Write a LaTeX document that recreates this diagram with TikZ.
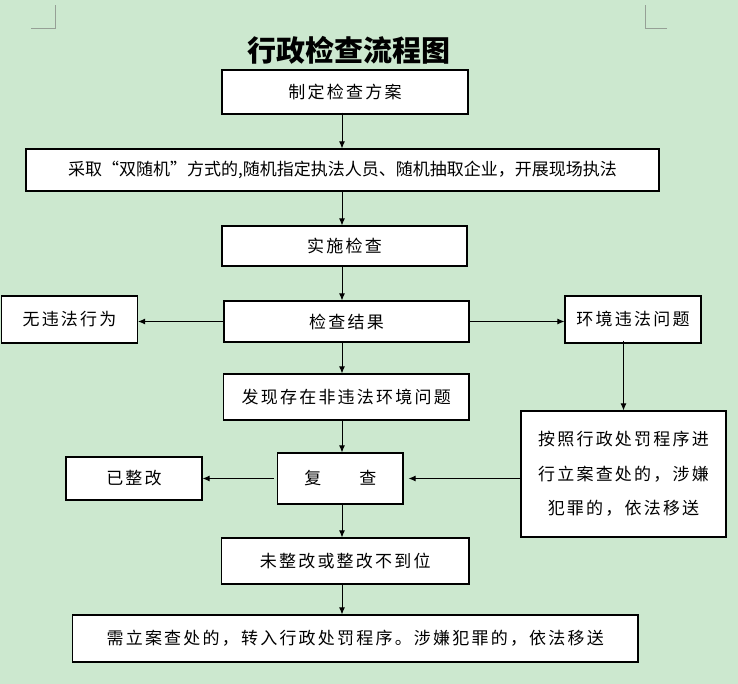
\documentclass[tikz,border=0pt]{standalone}
\usepackage{fontspec}
\usetikzlibrary{arrows.meta}
\setmainfont{Noto Sans CJK SC}
\newfontfamily\cjk{Noto Sans CJK SC}
\newfontfamily\cjks[LetterSpace=13]{Noto Sans CJK SC}
\definecolor{bgc}{RGB}{204,232,207}
\definecolor{markc}{RGB}{150,160,150}
\tikzset{
  box/.style={draw=black, line width=1.2pt, fill=white, inner sep=0pt,
    font=\cjks\fontsize{17}{20}\selectfont},
  wide/.style={box, font=\cjk\fontsize{17}{20}\selectfont},
  arr/.style={draw=black, line width=0.9pt, -{Latex[length=7pt,width=6pt]}},
  cornermark/.style={draw=markc, line width=0.8pt}
}
\begin{document}
\begin{tikzpicture}[x=1pt,y=-1pt]
\fill[bgc] (0,0) rectangle (738,684);
\useasboundingbox (0,0) rectangle (738,684);
% corner marks
\draw[cornermark] (31,28) -- (55,28) -- (55,5);
\draw[cornermark] (667,28) -- (645,28) -- (645,5);
% title
\node[font=\cjk\bfseries\fontsize{29}{32}\selectfont] (title) at (348.5,50) {行政检查流程图};
% boxes
\node[box, minimum width=246pt, minimum height=44pt] (b1) at (345,92) {制定检查方案};
\node[wide, minimum width=633pt, minimum height=42pt] (b2) at (342.5,170) {采取“双随机”方式的,随机指定执法人员、随机抽取企业，开展现场执法};
\node[box, minimum width=245pt, minimum height=40pt] (b3) at (344.5,246) {实施检查};
\node[box, minimum width=245pt, minimum height=41pt] (res) at (346.5,321.5) {检查结果};
\node[box, minimum width=136pt, minimum height=47pt] (no) at (69.5,319.5) {无违法行为};
\node[box, minimum width=136pt, minimum height=47pt] (env) at (633,319.5) {环境违法问题};
\node[box, minimum width=245.5pt, minimum height=46pt] (find) at (346.25,397) {发现存在非违法环境问题};
\node[box, minimum width=205pt, minimum height=126pt, align=center,
  font=\cjks\fontsize{17}{34.5}\selectfont] (proc) at (623.5,474)
  {按照行政处罚程序进\\行立案查处的，涉嫌\\犯罪的，依法移送};
\node[box, minimum width=125.5pt, minimum height=51pt] (re) at (340.25,478.5) {复\hspace{38pt}查};
\node[box, minimum width=136pt, minimum height=43pt] (done) at (134,478.5) {已整改};
\node[box, minimum width=247.5pt, minimum height=46pt] (not) at (345.25,561) {未整改或整改不到位};
\node[box, minimum width=565.5pt, minimum height=47pt] (fin) at (355.25,638.5) {需立案查处的，转入行政处罚程序。涉嫌犯罪的，依法移送};
% axis for vertical arrows
\coordinate (ax) at (342,0);
\draw[arr] ([yshift=2pt]b1.south -| ax) -- (b2.north -| ax);
\draw[arr] (b2.south -| ax) -- (b3.north -| ax);
\draw[arr] (b3.south -| ax) -- (res.north -| ax);
\draw[arr] (res.south -| ax) -- (find.north -| ax);
\draw[arr] (find.south -| ax) -- (re.north -| ax);
\draw[arr] (re.south -| ax) -- (not.north -| ax);
\draw[arr] (not.south -| ax) -- (fin.north -| ax);
\draw[arr] (res.west) -- (res.west -| no.east);
\draw[arr] (res.east) -- (res.east -| env.west);
\draw[arr] ([yshift=3pt]env.south -| proc.north) -- (proc.north);
\draw[arr] (re.east -| proc.west) -- ([xshift=5pt]re.east);
\draw[arr] ([xshift=-3pt]re.west) -- (re.west -| done.east);
\end{tikzpicture}
\end{document}
